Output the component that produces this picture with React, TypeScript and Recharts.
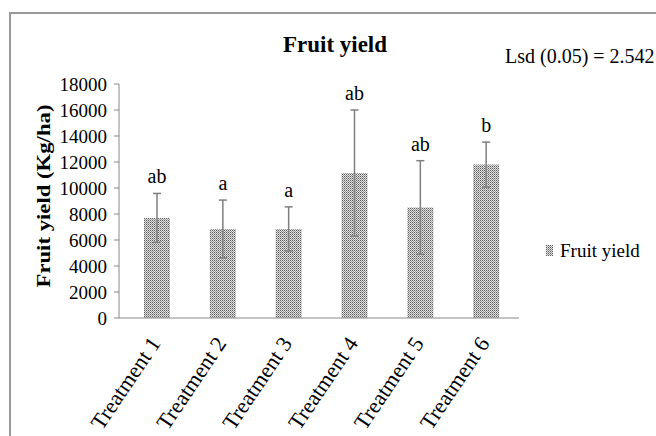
import React from 'react'
import { BarChart, Bar, XAxis, YAxis, ErrorBar, LabelList, Legend } from 'recharts'

const treatments = ['Treatment 1', 'Treatment 2', 'Treatment 3', 'Treatment 4', 'Treatment 5', 'Treatment 6']
const yieldValues = [7700, 6850, 6850, 11150, 8500, 11800]
const yieldErrors = [1880, 2220, 1700, 4850, 3600, 1730]
const letters = ['ab', 'a', 'a', 'ab', 'ab', 'b']
const yTicks = [0, 2000, 4000, 6000, 8000, 10000, 12000, 14000, 16000, 18000]

const data = treatments.map((name, i) => ({
  name,
  value: yieldValues[i],
  err: yieldErrors[i],
  letter: letters[i],
}))

const FONT = '"Liberation Serif", "Times New Roman", serif'

const XTick = (props: any) => {
  const { x, y, payload } = props
  return (
    <g transform={`translate(${x - 2},${y + 13})`}>
      <text transform="rotate(-56)" textAnchor="end" fontSize={22} fontFamily={FONT} fill="#000" dy="0.35em">
        {payload.value}
      </text>
    </g>
  )
}

const YTick = (props: any) => {
  const { x, y, payload } = props
  return (
    <text x={x} y={y} dy="0.36em" textAnchor="end" fontSize={19} fontFamily={FONT} fill="#000">
      {payload.value}
    </text>
  )
}

// letters sit a little above the top of each error bar
const renderLetter = (props: any) => {
  const { x, y, width, height, index } = props
  const d = data[index]
  if (!d) return null
  const pxPerUnit = height / d.value
  const top = y - d.err * pxPerUnit
  return (
    <text x={x + width / 2} y={top - 10} textAnchor="middle" fontSize={20} fontFamily={FONT} fill="#000">
      {d.letter}
    </text>
  )
}

const LegendBox = () => (
  <div style={{ display: 'flex', alignItems: 'center', fontFamily: FONT, fontSize: 19, lineHeight: 1, color: '#000' }}>
    <svg width={7} height={11} style={{ display: 'block' }}>
      <rect width={7} height={11} fill="url(#dots)" />
    </svg>
    <span style={{ marginLeft: 7, fontFamily: FONT }}>Fruit yield</span>
  </div>
)

export default function App() {
  return (
    <div style={{ position: 'absolute', left: 0, top: 0, width: 656, height: 436, overflow: 'hidden', background: '#fff' }}>
      <div style={{ position: 'absolute', left: 9, top: 12, width: 700, height: 500, borderTop: '2px solid #999', borderLeft: '2px solid #999' }} />
      <svg width={0} height={0} style={{ position: 'absolute' }}>
        <defs>
          <pattern id="dots" width={2} height={2} patternUnits="userSpaceOnUse">
            <rect width={2} height={2} fill="#e2e2e2" />
            <rect width={1} height={1} fill="#5a5a5a" />
            <rect x={1} y={1} width={1} height={1} fill="#9a9a9a" />
          </pattern>
        </defs>
      </svg>
      <div style={{ position: 'absolute', left: 0, top: 0 }}>
        <BarChart
          width={656}
          height={436}
          data={data}
          margin={{ top: 84, right: 137, left: 59, bottom: 8 }}
        >
          <XAxis
            dataKey="name"
            height={110}
            interval={0}
            tickLine={false}
            axisLine={{ stroke: '#888' }}
            padding={{ left: 5 }}
            tick={<XTick />}
          />
          <YAxis
            width={60}
            domain={[0, 18000]}
            ticks={yTicks}
            interval={0}
            tickSize={5}
            tickMargin={7}
            axisLine={{ stroke: '#888' }}
            tickLine={{ stroke: '#888' }}
            tick={<YTick />}
          />
          <Bar dataKey="value" fill="url(#dots)" barSize={26} isAnimationActive={false}>
            <ErrorBar dataKey="err" width={4} stroke="#7f7f7f" strokeWidth={1.5} />
            <LabelList dataKey="letter" content={renderLetter} />
          </Bar>
          <Legend
            layout="vertical"
            align="center"
            verticalAlign="middle"
            content={<LegendBox />}
            wrapperStyle={{ left: 546, top: 241, width: 'auto', height: 'auto' }}
          />
        </BarChart>
      </div>
      <svg width={656} height={436} style={{ position: 'absolute', left: 0, top: 0, pointerEvents: 'none' }}>
        <text x={335} y={52} textAnchor="middle" fontSize={24} fontWeight="bold" fontFamily={FONT} fill="#000" textLength={104} lengthAdjust="spacingAndGlyphs">
          Fruit yield
        </text>
        <text x={505} y={63} fontSize={20} fontFamily={FONT} fill="#000">
          Lsd (0.05) = 2.542
        </text>
        <text
          transform="translate(50,196) rotate(-90)"
          textAnchor="middle"
          fontSize={19}
          fontWeight="bold"
          fontFamily={FONT}
          fill="#000"
          textLength={183}
          lengthAdjust="spacingAndGlyphs"
        >
          Fruit yield (Kg/ha)
        </text>
      </svg>
    </div>
  )
}
